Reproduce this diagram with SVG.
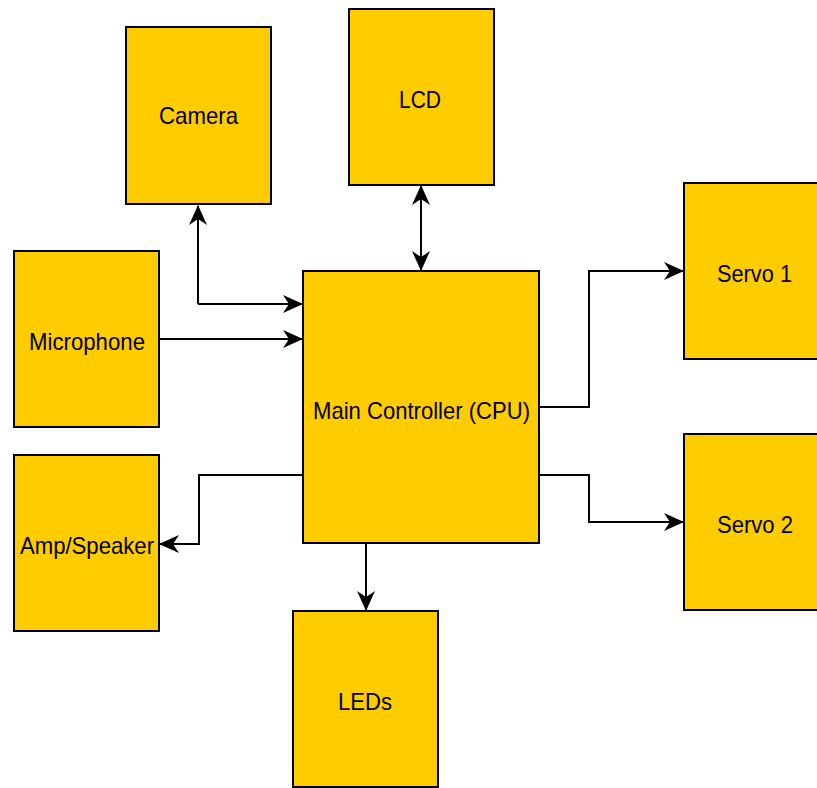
<svg xmlns="http://www.w3.org/2000/svg" width="817" height="788" viewBox="0 0 817 788">
<style>
.n{fill:#FFCC00;stroke:#000;stroke-width:2}
.t{font-family:"Liberation Sans",Arial,sans-serif;font-size:24px;fill:#000;text-anchor:middle}
.c{fill:none;stroke:#000;stroke-width:2}
</style>
<defs>
<marker id="a" viewBox="0 0 20 20" refX="19" refY="10" markerWidth="20" markerHeight="20" markerUnits="userSpaceOnUse" orient="auto-start-reverse">
<path d="M0,1 L20,10 L0,19 L6,10 Z" fill="#000"/>
</marker>
</defs>
<rect width="817" height="788" fill="#fff"/>
<g id="connectors">
<path class="c" d="M198,304 L198,206" marker-end="url(#a)"/>
<path class="c" d="M198,304 L302,304" marker-end="url(#a)"/>
<path class="c" d="M159,339 L302,339" marker-end="url(#a)"/>
<path class="c" d="M421,186 L421,270" marker-start="url(#a)" marker-end="url(#a)"/>
<path class="c" d="M539,407 L589,407 L589,271 L683,271" marker-end="url(#a)"/>
<path class="c" d="M539,475 L589,475 L589,522 L683,522" marker-end="url(#a)"/>
<path class="c" d="M303,475 L199,475 L199,544 L160,544" marker-end="url(#a)"/>
<path class="c" d="M366,543 L366,610" marker-end="url(#a)"/>
</g>
<g id="camera"><rect class="n" x="126" y="27" width="145" height="177"/><text class="t" x="198.5" y="124" textLength="79" lengthAdjust="spacingAndGlyphs">Camera</text></g>
<g id="lcd"><rect class="n" x="349" y="9" width="145" height="176"/><text class="t" x="420" y="108" textLength="42" lengthAdjust="spacingAndGlyphs">LCD</text></g>
<g id="microphone"><rect class="n" x="14" y="251" width="145" height="176"/><text class="t" x="87" y="350" textLength="116" lengthAdjust="spacingAndGlyphs">Microphone</text></g>
<g id="amp"><rect class="n" x="14" y="455" width="145" height="176"/><text class="t" x="87" y="554" textLength="134" lengthAdjust="spacingAndGlyphs">Amp/Speaker</text></g>
<g id="main"><rect class="n" x="303" y="271" width="236" height="272"/><text class="t" x="421.5" y="419" textLength="217" lengthAdjust="spacingAndGlyphs">Main Controller (CPU)</text></g>
<g id="servo1"><rect class="n" x="684" y="183" width="140" height="176"/><text class="t" x="754.5" y="282" textLength="75" lengthAdjust="spacingAndGlyphs">Servo 1</text></g>
<g id="servo2"><rect class="n" x="684" y="434" width="140" height="176"/><text class="t" x="755" y="533" textLength="76" lengthAdjust="spacingAndGlyphs">Servo 2</text></g>
<g id="leds"><rect class="n" x="293" y="611" width="145" height="176"/><text class="t" x="365" y="710" textLength="54" lengthAdjust="spacingAndGlyphs">LEDs</text></g>
</svg>
